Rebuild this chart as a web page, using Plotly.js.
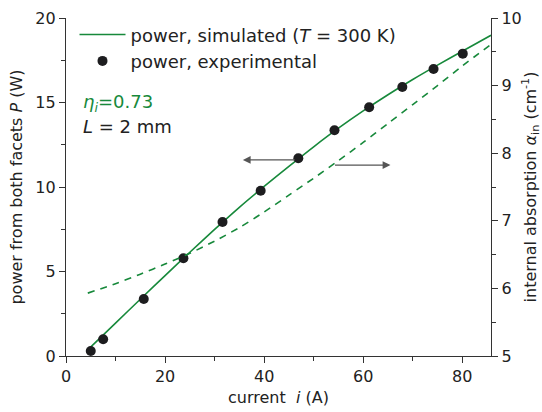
<!DOCTYPE html>
<html>
<head>
<meta charset="utf-8">
<script src="https://cdn.plot.ly/plotly-3.0.1.min.js"></script>
<style>html,body{margin:0;padding:0;background:#fff;}#chart{width:542px;height:412px;}</style>
</head>
<body>
<div id="chart"></div>
<script>
// experimental power points
const expCurrent = [5.0, 7.5, 15.7, 23.7, 31.6, 39.3, 46.9, 54.2, 61.2, 67.9, 74.2, 80.1];
const expPower   = [0.30, 0.99, 3.37, 5.78, 7.93, 9.78, 11.70, 13.36, 14.72, 15.92, 16.98, 17.89];
// simulated power (solid line)
const simCurrent = [4.7, 10, 15, 20, 25, 30, 35, 40, 45, 50, 55, 60, 65, 70, 75, 80, 85.8];
const simPower   = [0.45, 1.95, 3.36, 4.76, 6.14, 7.49, 8.80, 10.03, 11.22, 12.38, 13.48, 14.50, 15.46, 16.36, 17.21, 18.03, 18.98];
// internal absorption (dashed line, right axis)
const absCurrent = [4.4, 10, 15, 20, 25, 30, 35, 40, 45, 50, 55, 60, 65, 70, 75, 80, 85.8];
const absAlpha   = [5.93, 6.07, 6.21, 6.36, 6.52, 6.70, 6.90, 7.13, 7.38, 7.63, 7.89, 8.16, 8.44, 8.72, 9.00, 9.29, 9.61];

const green = '#17893b';
const FONT = 'DejaVu Sans, sans-serif';

const traces = [
  {x: simCurrent, y: simPower, type: 'scatter', mode: 'lines', name: 'power, simulated (<i>T</i> = 300 K)',
   line: {color: green, width: 1.6, shape: 'spline', smoothing: 0.8}},
  {x: expCurrent, y: expPower, type: 'scatter', mode: 'markers', name: 'power, experimental',
   marker: {color: '#1d1d1f', size: 10}},
  {x: absCurrent, y: absAlpha, type: 'scatter', mode: 'lines', yaxis: 'y2', showlegend: false,
   line: {color: green, width: 1.6, dash: '7px,6px', shape: 'spline', smoothing: 0.8}}
];

const axCol = '#333';
const layout = {
  width: 542, height: 412,
  margin: {l: 66, r: 51, t: 18, b: 56},
  paper_bgcolor: '#fff', plot_bgcolor: '#fff',
  font: {family: FONT, size: 16, color: '#222'},
  showlegend: true,
  legend: {x: 0.02, y: 1.005, xanchor: 'left', yanchor: 'top', bgcolor: 'rgba(0,0,0,0)',
           font: {family: FONT, size: 18, color: '#222'}, itemwidth: 46, tracegroupgap: 0},
  xaxis: {range: [0, 85.8], tick0: 0, dtick: 20, ticks: 'outside', ticklen: 6, tickwidth: 1,
          tickcolor: axCol, showline: true, linecolor: axCol, linewidth: 1.2, showgrid: false, zeroline: false,
          minor: {dtick: 10, ticks: 'outside', ticklen: 3.5, tickcolor: axCol},
          tickfont: {size: 16}, title: {text: 'current  <i>i</i> (A)', font: {size: 16}, standoff: 6}},
  yaxis: {range: [0, 20], tick0: 0, dtick: 5, ticks: 'outside', ticklen: 6, tickwidth: 1,
          tickcolor: axCol, showline: true, linecolor: axCol, linewidth: 1.2, showgrid: false, zeroline: false,
          minor: {dtick: 2.5, ticks: 'outside', ticklen: 3.5, tickcolor: axCol},
          tickfont: {size: 16}, title: {text: 'power from both facets <i>P</i> (W)', font: {size: 16}, standoff: 8}},
  yaxis2: {range: [5, 10], overlaying: 'y', side: 'right', tick0: 5, dtick: 1, ticks: 'outside', ticklen: 6,
           tickwidth: 1, tickcolor: axCol, showline: true, linecolor: axCol, linewidth: 1.2, showgrid: false,
           zeroline: false, minor: {dtick: 0.5, ticks: 'outside', ticklen: 3.5, tickcolor: axCol},
           tickfont: {size: 16},
           title: {text: 'internal absorption <i>α</i><sub>in</sub> (cm<sup>-1</sup>)', font: {size: 16}, standoff: 10}},
  annotations: [
    {xref: 'paper', yref: 'paper', x: 0.035, y: 0.748, xanchor: 'left', yanchor: 'middle', showarrow: false,
     text: '<i>η<sub>i</sub></i>=0.73', font: {family: FONT, size: 18, color: green}},
    {xref: 'paper', yref: 'paper', x: 0.035, y: 0.678, xanchor: 'left', yanchor: 'middle', showarrow: false,
     text: '<i>L</i> = 2 mm', font: {family: FONT, size: 18, color: '#222'}},
    {xref: 'x', yref: 'y', axref: 'x', ayref: 'y', x: 35.7, y: 11.6, ax: 46.5, ay: 11.6, text: '',
     showarrow: true, arrowhead: 2, arrowsize: 1.2, arrowwidth: 1.3, arrowcolor: '#555'},
    {xref: 'x', yref: 'y', axref: 'x', ayref: 'y', x: 65.5, y: 11.3, ax: 54.0, ay: 11.3, text: '',
     showarrow: true, arrowhead: 2, arrowsize: 1.2, arrowwidth: 1.3, arrowcolor: '#555'}
  ]
};

Plotly.newPlot('chart', traces, layout, {displayModeBar: false, staticPlot: true});
</script>
</body>
</html>
